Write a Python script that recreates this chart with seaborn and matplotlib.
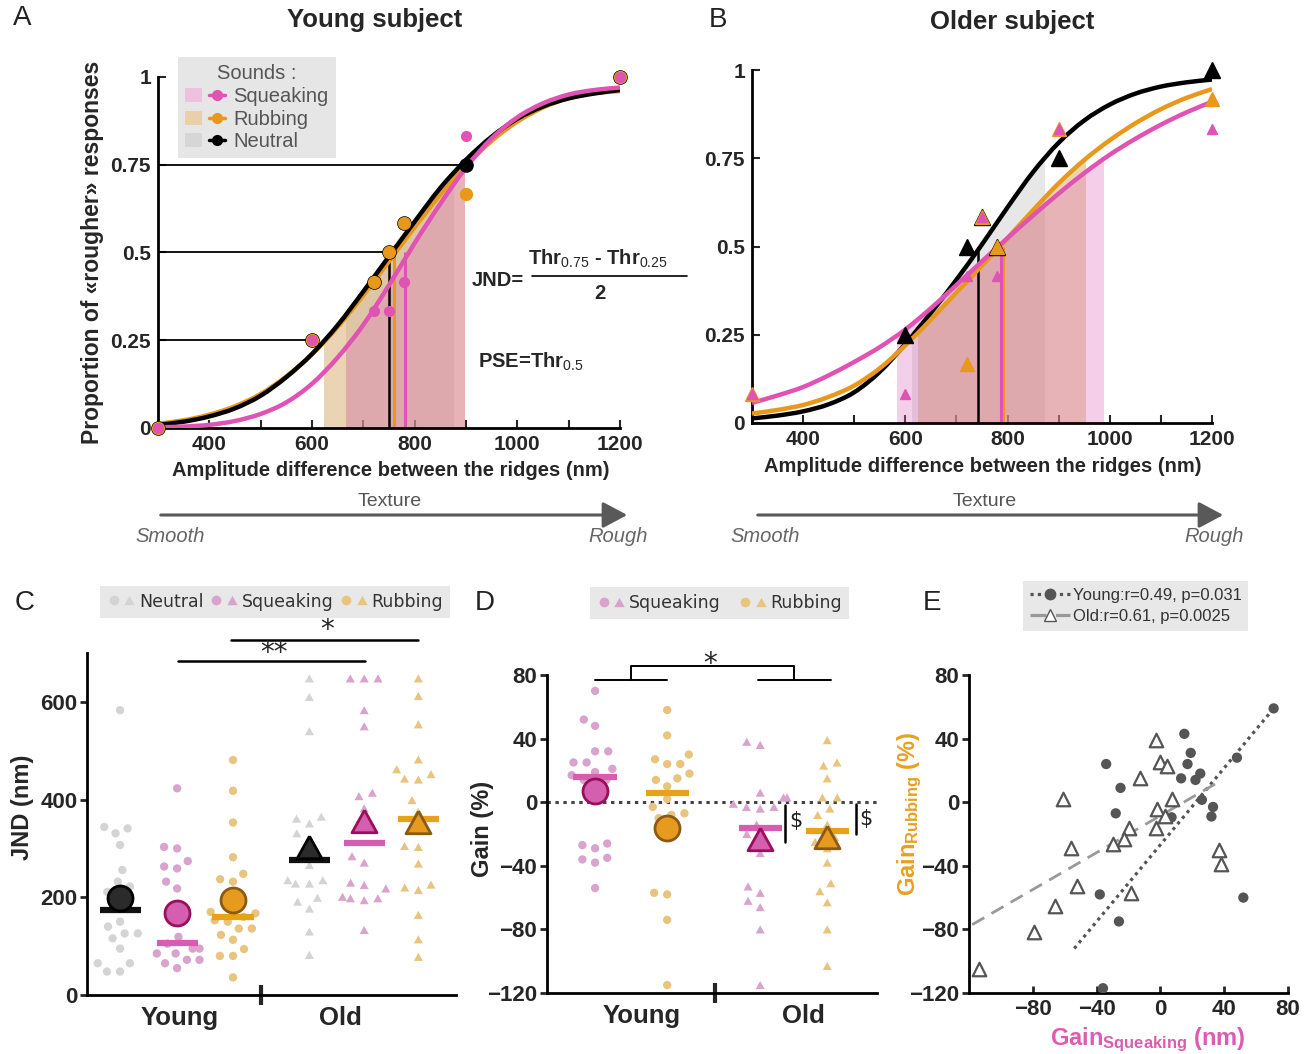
import numpy as np
import pandas as pd
import matplotlib
matplotlib.use("Agg")
import matplotlib.pyplot as plt
from matplotlib import font_manager
from matplotlib.lines import Line2D
from matplotlib.path import Path
from matplotlib.patches import Patch, Rectangle, PathPatch, FancyArrowPatch
from matplotlib.legend_handler import HandlerTuple
import seaborn as sns

W, H = 1313, 1054

# ---------------- A / B : psychometric functions ----------------
amp_grid = [300, 350, 400, 450, 500, 550, 600, 650, 700, 750,
            800, 850, 900, 950, 1000, 1050, 1100, 1150, 1200]

# fitted curves (neutral, rubbing, squeaking)
young_neutral_fit = [0.009, 0.018, 0.033, 0.056, 0.092, 0.145, 0.211, 0.293, 0.389, 0.489,
                     0.588, 0.684, 0.764, 0.830, 0.881, 0.916, 0.939, 0.953, 0.963]
young_rubbing_fit = [0.012, 0.022, 0.038, 0.062, 0.097, 0.147, 0.210, 0.288, 0.378, 0.475,
                     0.572, 0.665, 0.748, 0.818, 0.873, 0.913, 0.940, 0.954, 0.960]
young_squeak_fit = [0.002, 0.004, 0.009, 0.020, 0.040, 0.073, 0.126, 0.201, 0.294, 0.407,
                    0.527, 0.639, 0.742, 0.825, 0.885, 0.925, 0.950, 0.963, 0.970]
old_neutral_fit = [0.013, 0.021, 0.033, 0.053, 0.087, 0.145, 0.224, 0.312, 0.406, 0.506,
                   0.611, 0.711, 0.794, 0.857, 0.902, 0.933, 0.953, 0.965, 0.973]
old_rubbing_fit = [0.027, 0.037, 0.051, 0.074, 0.106, 0.155, 0.220, 0.293, 0.370, 0.446,
                   0.524, 0.603, 0.679, 0.745, 0.801, 0.849, 0.889, 0.921, 0.946]
old_squeak_fit = [0.057, 0.078, 0.102, 0.135, 0.173, 0.215, 0.265, 0.325, 0.391, 0.458,
                  0.524, 0.588, 0.650, 0.708, 0.760, 0.805, 0.845, 0.880, 0.910]

stim_levels = [300, 600, 720, 750, 780, 900, 1200]
young_neutral_pts = [0.0, 0.25, 0.417, 0.5, 0.583, 0.75, 1.0]
young_rubbing_pts = [0.0, 0.25, 0.417, 0.5, 0.583, 0.667, 1.0]
young_squeak_pts = [0.0, 0.25, 0.333, 0.333, 0.417, 0.833, 1.0]
old_neutral_pts = [np.nan, 0.25, 0.5, 0.583, 0.5, 0.75, 1.0]
old_rubbing_pts = [0.083, np.nan, 0.167, 0.583, 0.5, 0.833, 0.917]
old_squeak_pts = [0.083, 0.083, 0.417, 0.583, 0.417, 0.833, 0.833]

young_pse = [750, 759, 781]
old_pse = [743, 792, 787]
young_shade_lo = [666, 624, 666]
young_shade_hi = [876, 898, 898]
old_shade_lo = [614, 625, 583]
old_shade_hi = [873, 953, 989]
guide_levels = [0.25, 0.5, 0.75]
guide_ends = [600, 748, 893]

psych_xticks = [400, 600, 800, 1000, 1200]
psych_yticks = [0, 0.25, 0.5, 0.75, 1]
psych_yticklabels = ["0", "0.25", "0.5", "0.75", "1"]

# ---------------- C : JND ----------------
jnd_young_neutral = [583, 344, 341, 331, 307, 256, 232, 222, 211, 205, 150, 140, 126, 126,
                     116, 95, 65, 65, 48, 48]
jnd_young_squeak = [423, 303, 300, 274, 263, 259, 232, 218, 119, 105, 95, 95, 85, 85,
                    72, 72, 65, 55]
jnd_young_rubbing = [481, 418, 353, 282, 248, 237, 232, 170, 167, 160, 153, 150, 136, 136,
                     123, 113, 94, 80, 80, 36]
jnd_old_neutral = [648, 610, 540, 365, 361, 351, 331, 320, 266, 235, 235, 228, 228, 199,
                   191, 177, 130, 82]
jnd_old_squeak = [648, 648, 648, 583, 550, 414, 407, 382, 284, 271, 230, 225, 218, 201,
                  198, 198, 194, 133]
jnd_old_rubbing = [648, 612, 554, 482, 462, 452, 443, 441, 399, 375, 305, 303, 269, 226,
                   220, 215, 164, 114, 78]
jnd_mean = [198, 167, 195, 302, 356, 355]
jnd_median = [174, 106, 160, 276, 312, 361]

# ---------------- D : gain ----------------
gain_young_squeak = [70, 52, 48, 32, 32, 25, 25, 21, 19, 17, 14, 14, 10,
                     -26, -27, -29, -35, -36, -38, -54]
gain_young_rubbing = [58, 42, 30, 27, 24, 24, 18, 15, 14, 10, 2, -3, -7, -8, -10, -16,
                      -57, -58, -74, -115]
gain_old_squeak = [38, 36, 6, 3, 3, -1, -3, -3, -4, -14, -20, -22, -32, -53, -57, -62,
                   -66, -80, -115]
gain_old_rubbing = [39, 25, 23, 15, 3, 3, -4, -8, -14, -22, -25, -29, -38, -51, -56,
                    -63, -80, -103]
gain_mean = [7, -16, -23, -22]
gain_median = [15.6, 5.7, -16.4, -18]

# ---------------- E : correlation ----------------
young_gain_squeak = [71, 15, 19, -34, 17, 25, 13, 22, 48, -25, 26, 33, 32, -28, 7,
                     -38, 52, -26, -36]
young_gain_rubbing = [59, 43, 31, 24, 24, 18, 15, 14, 28, 9, 1.5, -3, -9, -7, -9.5,
                      -58, -60, -75, -117]
old_gain_squeak = [-3, 0, 4, -13, -61, 7, -2, 3, -20, -2.5, -23, -30, -56, 37, 38,
                   -52, -18.5, -66, -79, -114]
old_gain_rubbing = [39, 25, 23, 15, 2, 2, -4, -8.5, -16, -16, -23, -26.5, -29, -30,
                    -39, -53, -57, -65, -81.5, -105]
young_fit_x = [-54, 71]
young_fit_y = [-92, 59]
old_fit_x = [-118, 37]
old_fit_y = [-77, 13]

# ---------------- style ----------------
sns.set_style("ticks")
installed = {f.name for f in font_manager.fontManager.ttflist}
NARROW = ["Liberation Sans Narrow"] if "Liberation Sans Narrow" in installed else ["Liberation Sans"]
plt.rcParams["font.family"] = ["Liberation Sans", "DejaVu Sans"]
plt.rcParams["mathtext.fontset"] = "custom"
plt.rcParams["mathtext.rm"] = "Liberation Sans"
plt.rcParams["mathtext.bf"] = "Liberation Sans:bold"
plt.rcParams["mathtext.it"] = "Liberation Sans:italic"
plt.rcParams["axes.linewidth"] = 2
plt.rcParams["axes.edgecolor"] = "black"

BLACK, ORANGE, PINK = "#000000", "#e8981a", "#e052b4"
CURVE_COLS = [BLACK, ORANGE, PINK]
FILLS = [("#b8b8b8", 0.33), ("#d09a4a", 0.42), ("#e070c0", 0.33)]
LIGHT = {"Neutral": "#d4d4d4", "Squeaking": "#d8a3cc", "Rubbing": "#e9c47f"}
BAR = {"Neutral": "#111111", "Squeaking": "#d65db1", "Rubbing": "#e8a21a"}
BIG_FILL = {"Neutral": "#2b2b2b", "Squeaking": "#d35fae", "Rubbing": "#e69a1e"}
BIG_EDGE = {"Neutral": "#000000", "Squeaking": "#9a0f5c", "Rubbing": "#8a5a14"}
TRI = [(0, 0.9), (-1, -0.9), (1, -0.9), (0, 0.9)]

fig = plt.figure(figsize=(W / 100, H / 100), dpi=100)
fig.patch.set_facecolor("white")


def px_axes(l, t, r, b):
    return fig.add_axes([l / W, 1 - b / H, (r - l) / W, (b - t) / H])


def ftext(x, y, s, **kw):
    kw.setdefault("ha", "center")
    kw.setdefault("va", "center")
    fig.text(x / W, 1 - y / H, s, **kw)


def fline(xs, ys, **kw):
    fig.add_artist(Line2D([x / W for x in xs], [1 - y / H for y in ys],
                          transform=fig.transFigure, **kw))


def bold_ticks(ax, size):
    for lab in ax.get_xticklabels() + ax.get_yticklabels():
        lab.set_fontweight("bold")
        lab.set_fontsize(size)


def smooth_verts(xs, ys):
    # Catmull-Rom through the read points, rendered as cubic Bezier segments
    P = np.column_stack([xs, ys]).astype(float)
    E = np.vstack([2 * P[0] - P[1], P, 2 * P[-1] - P[-2]])
    verts, codes = [P[0]], [Path.MOVETO]
    for i in range(1, len(E) - 2):
        p0, p1, p2, p3 = E[i - 1], E[i], E[i + 1], E[i + 2]
        verts += [p1 + (p2 - p0) / 6, p2 - (p3 - p1) / 6, p2]
        codes += [Path.CURVE4] * 3
    return verts, codes


def psych_panel(ax, fits, pts, pse, lo, hi, marker, msz, curve_z):
    for fit, (fc, al), l, h in zip(fits, FILLS, lo, hi):
        verts, codes = smooth_verts(amp_grid, fit)
        verts = verts + [(amp_grid[-1], 0), (amp_grid[0], 0), verts[0]]
        codes = codes + [Path.LINETO, Path.LINETO, Path.CLOSEPOLY]
        poly = PathPatch(Path(verts, codes), fc=fc, alpha=al, lw=0, zorder=1)
        ax.add_patch(poly)
        poly.set_clip_path(Rectangle((l, 0), h - l, 1.2, transform=ax.transData))
    ax.vlines(pse, 0, 0.5, colors=CURVE_COLS, lw=[1.8, 2.2, 2.2], zorder=2)
    for fit, col, z in zip(fits, CURVE_COLS, curve_z):
        verts, codes = smooth_verts(amp_grid, fit)
        ax.add_patch(PathPatch(Path(verts, codes), fc="none", ec=col, lw=3.2,
                               capstyle="butt", zorder=z))
    for p, col, ms in zip(pts, CURVE_COLS, msz):
        ax.plot(stim_levels, p, ls="none", marker=marker, ms=ms, color=col, mec=col,
                clip_on=False, zorder=6)
    ax.set_xlim(300, 1200)
    ax.set_ylim(0, 1)
    ax.set_xticks(psych_xticks)
    ax.set_xticks(range(300, 1201, 100), minor=True)
    ax.set_yticks(psych_yticks)
    ax.set_yticklabels(psych_yticklabels)
    ax.tick_params(which="both", direction="in", length=6, width=1.5, pad=5)
    bold_ticks(ax, 15)
    ax.set_xlabel("")
    ax.set_ylabel("")
    sns.despine(ax=ax)


# ---- A ----
axA = px_axes(158, 77, 620, 428)
psych_panel(axA, [young_neutral_fit, young_rubbing_fit, young_squeak_fit],
            [young_neutral_pts, young_rubbing_pts, young_squeak_pts],
            young_pse, young_shade_lo, young_shade_hi, "o", [9.5, 8.5, 7], [4, 3, 5])
axA.hlines(guide_levels, 300, guide_ends, color="black", lw=1.3, zorder=2)

legA_handles = [
    (Patch(fc="#ecc2de", ec="none"), Line2D([0], [0], color=PINK, lw=2.5, marker="o", ms=7)),
    (Patch(fc="#e8d0a8", ec="none"), Line2D([0], [0], color=ORANGE, lw=2.5, marker="o", ms=7)),
    (Patch(fc="#d6d6d6", ec="none"), Line2D([0], [0], color=BLACK, lw=2.5, marker="o", ms=7)),
]
legA = axA.legend(legA_handles, ["Squeaking", "Rubbing", "Neutral"], title="Sounds :",
                  handler_map={tuple: HandlerTuple(ndivide=None, pad=0.35)},
                  loc="upper left", bbox_to_anchor=(0.043, 1.056), borderaxespad=0,
                  fontsize=14.5, title_fontsize=14.5, labelcolor="#555555",
                  frameon=True, fancybox=False, facecolor="#e6e6e6", edgecolor="none",
                  framealpha=1, handlelength=2.0, handletextpad=0.4, labelspacing=0.18,
                  borderpad=0.35)
legA.get_title().set_color("#555555")
legA.set_zorder(10)

# ---- B ----
axB = px_axes(752, 70, 1212, 423)
psych_panel(axB, [old_neutral_fit, old_rubbing_fit, old_squeak_fit],
            [old_neutral_pts, old_rubbing_pts, old_squeak_pts],
            old_pse, old_shade_lo, old_shade_hi, "^", [11, 10, 7.5], [3, 4, 5])

# JND / PSE formulas
ftext(498, 281, "JND=", fontsize=14.5, fontweight="bold")
ftext(598, 259, r"Thr$_{\mathrm{0.75}}$ - Thr$_{\mathrm{0.25}}$", fontsize=14.5, fontweight="bold")
fline([532, 687], [276, 276], color="black", lw=1.2)
ftext(600, 293, "2", fontsize=14.5, fontweight="bold")
ftext(478, 362, r"PSE=Thr$_{\mathrm{0.5}}$", fontsize=14.5, fontweight="bold", ha="left")

# titles, letters, axis labels for A/B
ftext(375, 20, "Young subject", fontsize=18.5, fontweight="bold")
ftext(1012, 22, "Older subject", fontsize=18.5, fontweight="bold")
for lx, ly, letter in [(22, 18, "A"), (718, 20, "B"), (25, 603, "C"), (485, 603, "D"),
                       (932, 603, "E")]:
    ftext(lx, ly, letter, fontsize=20, color="#222222")
ftext(93, 252, "Proportion of «rougher» responses", fontsize=16.5, fontweight="bold",
      rotation=90)
ftext(391, 470, "Amplitude difference between the ridges (nm)", fontsize=14.5,
      fontweight="bold")
ftext(983, 466, "Amplitude difference between the ridges (nm)", fontsize=14.5,
      fontweight="bold")

# texture arrows
for x0, x1, xt, xs, xr in [(158, 630, 390, 170, 618), (755, 1226, 985, 765, 1214)]:
    fig.add_artist(FancyArrowPatch(
        (x0 / W, 1 - 515 / H), (x1 / W, 1 - 515 / H), transform=fig.transFigure,
        arrowstyle="-|>,head_length=0.75,head_width=0.4", mutation_scale=20,
        lw=2.2, color="#595959"))
    ftext(xt, 501, "Texture", fontsize=14, color="#555555")
    ftext(xs, 536, "Smooth", fontsize=14.5, color="#666666", style="italic")
    ftext(xr, 536, "Rough", fontsize=14.5, color="#666666", style="italic")

# ---- C ----
axC = px_axes(87, 653, 456, 995)
c_pos = [0, 1, 1.98, 3.32, 4.28, 5.23]
c_cond = ["Neutral", "Squeaking", "Rubbing"] * 2
jnd_sets = [jnd_young_neutral, jnd_young_squeak, jnd_young_rubbing,
            jnd_old_neutral, jnd_old_squeak, jnd_old_rubbing]
dfc = pd.DataFrame([(p, v, c, "Young" if i < 3 else "Old")
                    for i, (p, vals, c) in enumerate(zip(c_pos, jnd_sets, c_cond))
                    for v in vals], columns=["pos", "jnd", "cond", "age"])
# invisible edge widens the swarm spacing without enlarging the dots
sns.swarmplot(data=dfc[dfc.age == "Young"], x="pos", y="jnd", hue="cond", palette=LIGHT,
              native_scale=True, orient="x", size=6, marker="o", linewidth=3,
              edgecolor="none", legend=False, ax=axC, zorder=2)
sns.swarmplot(data=dfc[dfc.age == "Old"], x="pos", y="jnd", hue="cond", palette=LIGHT,
              native_scale=True, orient="x", size=6.5, marker=TRI, linewidth=3,
              edgecolor="none", legend=False, ax=axC, zorder=2)
axC.hlines(jnd_median, np.array(c_pos) - 0.36, np.array(c_pos) + 0.36,
           colors=[BAR[c] for c in c_cond], lw=4.5, zorder=3)
for i, (p, m, c) in enumerate(zip(c_pos, jnd_mean, c_cond)):
    axC.plot(p, m, marker="o" if i < 3 else TRI, ms=18, mfc=BIG_FILL[c], mec=BIG_EDGE[c],
             mew=2, ls="none", zorder=4)
axC.set_xlim(-0.58, 5.89)
axC.set_ylim(0, 700)
axC.set_yticks([0, 200, 400, 600])
axC.set_xticks([1.04, 3.86])
axC.set_xticklabels(["Young", "Old"])
axC.set_xticks([2.47], minor=True)
axC.tick_params(axis="x", which="major", length=0, pad=8)
axC.tick_params(axis="x", which="minor", direction="inout", length=14, width=3)
axC.tick_params(axis="y", direction="out", length=5, width=2, pad=2)
bold_ticks(axC, 16)
for lab in axC.get_xticklabels():
    lab.set_fontsize(18.5)
axC.set_xlabel("")
axC.set_ylabel("")
sns.despine(ax=axC)
# significance
axC.plot([1.02, 4.3], [684, 684], color="black", lw=1.8, clip_on=False)
axC.plot([1.95, 5.23], [727, 727], color="black", lw=1.8, clip_on=False)
axC.text(2.7, 700, "**", fontsize=20, ha="center", va="center", family="DejaVu Sans",
         clip_on=False)
axC.text(3.63, 747, "*", fontsize=20, ha="center", va="center", family="DejaVu Sans",
         clip_on=False)
ftext(22, 807, "JND (nm)", fontsize=17, fontweight="bold", rotation=90)

legC_handles = [(Line2D([0], [0], ls="none", marker="o", ms=7, color=LIGHT[c], mec="none"),
                 Line2D([0], [0], ls="none", marker=TRI, ms=7.5, color=LIGHT[c], mec="none"))
                for c in ["Neutral", "Squeaking", "Rubbing"]]
axC.legend(legC_handles, ["Neutral", "Squeaking", "Rubbing"], ncol=3,
           handler_map={tuple: HandlerTuple(ndivide=None, pad=0.1)},
           loc="upper left", bbox_to_anchor=(0.035, 1.197), borderaxespad=0,
           prop={"family": "DejaVu Sans", "size": 12.5}, labelcolor="#333333",
           frameon=True, fancybox=False, facecolor="#e8e8e8", edgecolor="none",
           framealpha=1, handlelength=1.7, handletextpad=0.15, columnspacing=0.35,
           borderpad=0.4)

# ---- D ----
axD = px_axes(547, 675, 877, 993)
d_pos = [0, 1.0, 2.29, 3.22]
d_cond = ["Squeaking", "Rubbing", "Squeaking", "Rubbing"]
gain_sets = [gain_young_squeak, gain_young_rubbing, gain_old_squeak, gain_old_rubbing]
dfd = pd.DataFrame([(p, v, c, "Young" if i < 2 else "Old")
                    for i, (p, vals, c) in enumerate(zip(d_pos, gain_sets, d_cond))
                    for v in vals], columns=["pos", "gain", "cond", "age"])
axD.axhline(0, color="#444444", ls=(0, (1.1, 1.5)), lw=2.2, zorder=1)
sns.swarmplot(data=dfd[dfd.age == "Young"], x="pos", y="gain", hue="cond", palette=LIGHT,
              native_scale=True, orient="x", size=6, marker="o", linewidth=3,
              edgecolor="none", legend=False, ax=axD, zorder=2)
sns.swarmplot(data=dfd[dfd.age == "Old"], x="pos", y="gain", hue="cond", palette=LIGHT,
              native_scale=True, orient="x", size=6.5, marker=TRI, linewidth=3,
              edgecolor="none", legend=False, ax=axD, zorder=2)
axD.hlines(gain_median, np.array(d_pos) - 0.3, np.array(d_pos) + 0.3,
           colors=[BAR[c] for c in d_cond], lw=4.5, zorder=3)
for i, (p, m, c) in enumerate(zip(d_pos, gain_mean, d_cond)):
    axD.plot(p, m, marker="o" if i < 2 else TRI, ms=18, mfc=BIG_FILL[c], mec=BIG_EDGE[c],
             mew=2, ls="none", zorder=4)
axD.set_xlim(-0.667, 3.91)
axD.set_ylim(-120, 80)
axD.set_yticks([-120, -80, -40, 0, 40, 80])
axD.set_xticks([0.65, 2.89])
axD.set_xticklabels(["Young", "Old"])
axD.set_xticks([1.667], minor=True)
axD.tick_params(axis="x", which="major", length=0, pad=8)
axD.tick_params(axis="x", which="minor", direction="inout", length=14, width=3)
axD.tick_params(axis="y", direction="out", length=5, width=2, pad=2)
bold_ticks(axD, 16)
for lab in axD.get_xticklabels():
    lab.set_fontsize(18.5)
axD.set_xlabel("")
axD.set_ylabel("")
sns.despine(ax=axD)
# bracket + $ marks
axD.plot([0, 1.0], [77, 77], color="black", lw=1.4, clip_on=False)
axD.plot([2.26, 3.27], [77, 77], color="black", lw=1.4, clip_on=False)
axD.plot([0.5, 0.5, 2.76, 2.76], [77, 85.5, 85.5, 77], color="black", lw=1.4, clip_on=False)
axD.text(1.6, 87, "*", fontsize=20, ha="center", va="center", family="DejaVu Sans",
         clip_on=False)
axD.plot([2.64, 2.64], [-2, -25], color="black", lw=1.8)
axD.plot([3.625, 3.625], [-1, -20.3], color="black", lw=1.8)
axD.text(2.78, -12, "$", fontsize=15, ha="center", va="center", family="DejaVu Sans",
         color="#222222")
axD.text(3.75, -10.6, "$", fontsize=15, ha="center", va="center", family="DejaVu Sans",
         color="#222222")
ftext(482, 829, "Gain (%)", fontsize=17, fontweight="bold", rotation=90)

legD_handles = [(Line2D([0], [0], ls="none", marker="o", ms=7, color=LIGHT[c], mec="none"),
                 Line2D([0], [0], ls="none", marker=TRI, ms=7.5, color=LIGHT[c], mec="none"))
                for c in ["Squeaking", "Rubbing"]]
axD.legend(legD_handles, ["Squeaking", "Rubbing"], ncol=2,
           handler_map={tuple: HandlerTuple(ndivide=None, pad=0.1)},
           loc="upper left", bbox_to_anchor=(0.13, 1.277), borderaxespad=0,
           prop={"family": "DejaVu Sans", "size": 12.5}, labelcolor="#333333",
           frameon=True, fancybox=False, facecolor="#e8e8e8", edgecolor="none",
           framealpha=1, handlelength=1.7, handletextpad=0.15, columnspacing=1.0,
           borderpad=0.4)

# ---- E ----
axE = px_axes(969, 675, 1288, 993)
axE.plot(young_fit_x, young_fit_y, color="#555555", ls=(0, (1, 1.3)), lw=2.3, zorder=2)
axE.plot(old_fit_x, old_fit_y, color="#999999", ls=(0, (5, 3)), lw=2, zorder=2)
sns.scatterplot(x=young_gain_squeak, y=young_gain_rubbing, ax=axE, color="#555555", s=55,
                edgecolor="none", zorder=3)
sns.scatterplot(x=old_gain_squeak, y=old_gain_rubbing, ax=axE, marker="^", s=95,
                color="white", edgecolor="#555555", linewidth=1.6, zorder=3)
axE.set_xlim(-120, 80)
axE.set_ylim(-120, 80)
axE.set_xticks([-80, -40, 0, 40, 80])
axE.set_yticks([-120, -80, -40, 0, 40, 80])
axE.tick_params(axis="x", direction="in", length=5, width=2, pad=4)
axE.tick_params(axis="y", direction="out", length=5, width=2, pad=2)
bold_ticks(axE, 16)
sns.despine(ax=axE)
ftext(910, 814, r"Gain$_{\mathbf{Rubbing}}$ (%)", fontsize=17, fontweight="bold",
      rotation=90, color="#e8a01e")
ftext(1148, 1040, r"Gain$_{\mathbf{Squeaking}}$ (nm)", fontsize=17, fontweight="bold",
      color="#dc5cb0")
legE_handles = [
    Line2D([0], [0], color="#555555", ls=(0, (1, 1.3)), lw=2.3, marker="o", ms=7.5,
           mfc="#555555", mec="#555555"),
    Line2D([0], [0], color="#999999", ls=(0, (5, 3)), lw=2.3, marker="^", ms=8,
           mfc="white", mec="#555555"),
]
axE.legend(legE_handles, ["Young:r=0.49, p=0.031", "Old:r=0.61, p=0.0025"],
           loc="upper left", bbox_to_anchor=(0.169, 1.296), borderaxespad=0,
           prop={"family": NARROW, "size": 14 if NARROW[0].endswith("Narrow") else 12},
           labelcolor="#333333", frameon=True, fancybox=False, facecolor="#e8e8e8",
           edgecolor="none", framealpha=1, handlelength=2.4, handletextpad=0.2,
           borderpad=0.4, labelspacing=0.4)

fig.savefig("out.png", dpi=100)
